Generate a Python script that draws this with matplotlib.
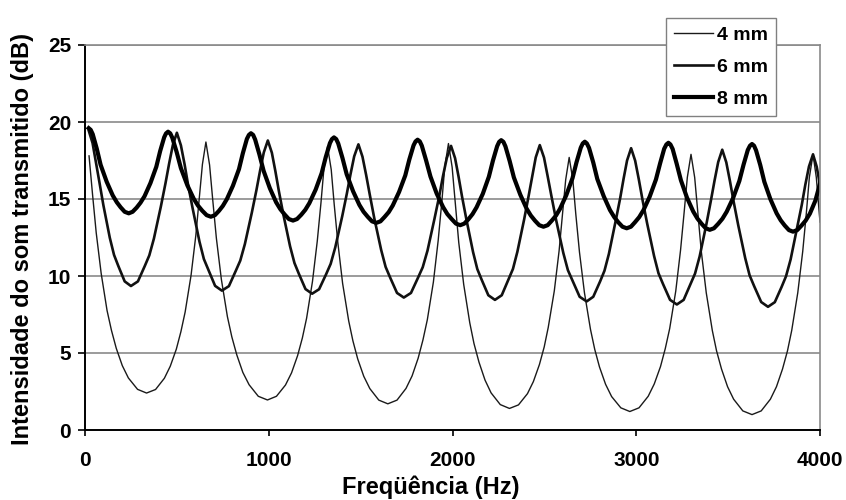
import matplotlib
matplotlib.use("Agg")
import matplotlib.pyplot as plt


# frequency (Hz) / level (dB), one line per half period
freq_4mm = [22, 41, 61, 88, 120, 144, 170, 203, 236, 286, 335,
            384, 432, 464, 497, 522, 545, 577, 603, 622, 639, 658,
            678, 695, 715, 742, 775, 799, 826, 859, 893, 943, 993,
            1042, 1091, 1124, 1157, 1183, 1206, 1238, 1264, 1284, 1300, 1320,
            1340, 1356, 1376, 1402, 1435, 1458, 1484, 1517, 1550, 1599, 1648,
            1698, 1747, 1780, 1813, 1839, 1863, 1896, 1922, 1942, 1958, 1978,
            1998, 2015, 2034, 2061, 2094, 2117, 2144, 2177, 2210, 2260, 2310,
            2359, 2408, 2440, 2473, 2499, 2521, 2554, 2580, 2599, 2616, 2635,
            2655, 2671, 2691, 2718, 2751, 2774, 2800, 2833, 2866, 2916, 2965,
            3015, 3065, 3098, 3132, 3158, 3182, 3215, 3241, 3261, 3278, 3298,
            3318, 3335, 3354, 3381, 3414, 3437, 3464, 3497, 3530, 3580, 3630,
            3680, 3730, 3763, 3796, 3823, 3846, 3879, 3906, 3926, 3942, 3962,
            3980, 4000]
db_4mm = [17.8, 15.30, 12.81, 10.17, 7.76, 6.47, 5.31, 4.18, 3.38, 2.64, 2.4,
          2.63, 3.36, 4.14, 5.25, 6.39, 7.66, 10.03, 12.62, 15.07, 17.25, 18.7,
          17.21, 14.96, 12.45, 9.79, 7.36, 6.05, 4.88, 3.74, 2.94, 2.19, 1.95,
          2.19, 2.92, 3.71, 4.83, 5.98, 7.26, 9.65, 12.26, 14.73, 16.94, 18.4,
          16.91, 14.68, 12.17, 9.52, 7.09, 5.79, 4.62, 3.49, 2.69, 1.94, 1.7,
          1.94, 2.70, 3.51, 4.66, 5.84, 7.16, 9.61, 12.30, 14.83, 17.10, 18.6,
          17.07, 14.76, 12.18, 9.45, 6.96, 5.61, 4.41, 3.24, 2.41, 1.65, 1.4,
          1.63, 2.36, 3.14, 4.25, 5.39, 6.66, 9.03, 11.62, 14.07, 16.25, 17.7,
          16.23, 14.02, 11.55, 8.92, 6.53, 5.24, 4.09, 2.97, 2.17, 1.44, 1.2,
          1.44, 2.19, 2.99, 4.12, 5.29, 6.59, 9.02, 11.67, 14.18, 16.41, 17.9,
          16.40, 14.13, 11.60, 8.91, 6.46, 5.14, 3.96, 2.81, 2.00, 1.24, 1.0,
          1.24, 2.00, 2.81, 3.96, 5.14, 6.46, 8.91, 11.60, 14.13, 16.40, 17.9,
          16.4, 13.5]

freq_6mm = [20, 41, 59, 78, 100, 135, 158, 181, 216, 250,
            288, 325, 350, 375, 413, 438, 458, 478, 500,
            522, 542, 561, 586, 623, 647, 672, 708, 745,
            783, 820, 845, 870, 908, 933, 953, 973, 995,
            1017, 1036, 1055, 1079, 1116, 1140, 1164, 1200, 1236,
            1274, 1312, 1337, 1362, 1400, 1425, 1445, 1465, 1488,
            1510, 1530, 1550, 1574, 1612, 1636, 1661, 1698, 1735,
            1774, 1812, 1838, 1864, 1902, 1928, 1948, 1969, 1992,
            2014, 2033, 2052, 2076, 2112, 2135, 2159, 2195, 2231,
            2268, 2304, 2329, 2353, 2390, 2414, 2434, 2453, 2475,
            2498, 2518, 2539, 2564, 2603, 2628, 2654, 2692, 2730,
            2766, 2803, 2827, 2851, 2887, 2912, 2931, 2950, 2972,
            2994, 3014, 3034, 3059, 3097, 3121, 3146, 3184, 3221,
            3258, 3295, 3320, 3345, 3382, 3406, 3426, 3446, 3468,
            3490, 3510, 3530, 3555, 3593, 3617, 3642, 3680, 3717,
            3754, 3791, 3815, 3840, 3876, 3901, 3920, 3940, 3962,
            3982, 4000]
db_6mm = [19.45, 18.64, 17.43, 16.12, 14.60, 12.48, 11.37, 10.66, 9.65, 9.35,
          9.65, 10.64, 11.34, 12.43, 14.52, 16.02, 17.31, 18.50, 19.3,
          18.48, 17.25, 15.92, 14.38, 12.23, 11.10, 10.38, 9.36, 9.05,
          9.34, 10.32, 11.00, 12.07, 14.12, 15.58, 16.85, 18.02, 18.8,
          18.00, 16.81, 15.52, 14.02, 11.93, 10.84, 10.14, 9.15, 8.85,
          9.14, 10.11, 10.79, 11.86, 13.89, 15.35, 16.61, 17.77, 18.55,
          17.75, 16.56, 15.27, 13.77, 11.68, 10.59, 9.89, 8.90, 8.6,
          8.90, 9.88, 10.57, 11.65, 13.72, 15.20, 16.48, 17.66, 18.45,
          17.65, 16.45, 15.15, 13.65, 11.55, 10.45, 9.75, 8.75, 8.45,
          8.75, 9.76, 10.46, 11.57, 13.68, 15.18, 16.49, 17.70, 18.5,
          17.69, 16.47, 15.15, 13.63, 11.50, 10.38, 9.67, 8.65, 8.35,
          8.65, 9.64, 10.34, 11.43, 13.52, 15.02, 16.31, 17.50, 18.3,
          17.49, 16.27, 14.95, 13.43, 11.30, 10.18, 9.47, 8.45, 8.15,
          8.45, 9.46, 10.16, 11.27, 13.38, 14.88, 16.19, 17.40, 18.2,
          17.38, 16.16, 14.83, 13.30, 11.16, 10.04, 9.33, 8.31, 8.0,
          8.30, 9.29, 9.98, 11.07, 13.15, 14.63, 15.92, 17.11, 17.9,
          17.1, 15.9]

freq_8mm = [20, 31, 42, 64, 85, 118, 151, 173, 194, 216, 238,
            259, 281, 302, 324, 356, 388, 409, 431, 441, 452,
            464, 475, 499, 522, 557, 592, 615, 638, 662, 685,
            707, 729, 750, 772, 805, 838, 859, 881, 892, 903,
            915, 926, 949, 972, 1006, 1040, 1063, 1086, 1109, 1132,
            1154, 1177, 1199, 1221, 1255, 1288, 1310, 1333, 1344, 1355,
            1367, 1378, 1401, 1424, 1459, 1493, 1516, 1539, 1562, 1585,
            1608, 1630, 1653, 1675, 1709, 1743, 1765, 1788, 1799, 1810,
            1822, 1833, 1856, 1880, 1914, 1949, 1972, 1996, 2019, 2042,
            2064, 2087, 2109, 2131, 2165, 2198, 2220, 2243, 2254, 2265,
            2277, 2288, 2311, 2334, 2369, 2403, 2426, 2449, 2472, 2495,
            2518, 2540, 2563, 2585, 2619, 2653, 2675, 2698, 2709, 2720,
            2731, 2743, 2766, 2788, 2823, 2857, 2880, 2902, 2925, 2948,
            2971, 2993, 3016, 3039, 3073, 3107, 3130, 3152, 3164, 3175,
            3186, 3198, 3220, 3243, 3276, 3310, 3333, 3355, 3378, 3400,
            3423, 3446, 3469, 3492, 3527, 3561, 3584, 3607, 3619, 3630,
            3641, 3652, 3675, 3697, 3730, 3764, 3786, 3808, 3831, 3853,
            3876, 3899, 3922, 3945, 3975, 4000]
db_8mm = [19.6, 19.49, 19.21, 18.27, 17.22, 16.12, 15.23, 14.79, 14.46, 14.17, 14.07,
          14.17, 14.44, 14.76, 15.18, 16.03, 17.09, 18.11, 19.01, 19.26, 19.37,
          19.26, 18.98, 18.04, 17.00, 15.89, 15.01, 14.57, 14.24, 13.95, 13.85,
          13.95, 14.23, 14.55, 14.99, 15.86, 16.94, 17.97, 18.90, 19.16, 19.27,
          19.16, 18.86, 17.90, 16.83, 15.70, 14.79, 14.34, 14.00, 13.7, 13.6,
          13.7, 13.98, 14.30, 14.73, 15.60, 16.68, 17.71, 18.63, 18.89, 19.0,
          18.89, 18.61, 17.67, 16.61, 15.50, 14.62, 14.17, 13.84, 13.55, 13.45,
          13.55, 13.83, 14.15, 14.58, 15.45, 16.53, 17.56, 18.48, 18.74, 18.85,
          18.74, 18.46, 17.52, 16.46, 15.35, 14.47, 14.02, 13.69, 13.4, 13.3,
          13.4, 13.69, 14.02, 14.46, 15.34, 16.45, 17.49, 18.43, 18.71, 18.82,
          18.71, 18.42, 17.47, 16.40, 15.28, 14.38, 13.93, 13.59, 13.3, 13.2,
          13.3, 13.59, 13.92, 14.36, 15.24, 16.35, 17.39, 18.33, 18.61, 18.72,
          18.61, 18.32, 17.37, 16.30, 15.18, 14.28, 13.83, 13.49, 13.2, 13.1,
          13.2, 13.49, 13.82, 14.27, 15.15, 16.26, 17.32, 18.26, 18.54, 18.65,
          18.54, 18.25, 17.29, 16.22, 15.09, 14.19, 13.73, 13.40, 13.1, 13.0,
          13.1, 13.39, 13.72, 14.17, 15.06, 16.17, 17.23, 18.18, 18.46, 18.57,
          18.46, 18.16, 17.20, 16.12, 14.99, 14.07, 13.62, 13.28, 12.98, 12.88,
          12.98, 13.27, 13.60, 14.05, 14.9, 16.0]

labels = ["4 mm", "6 mm", "8 mm"]
x_ticks = [0, 1000, 2000, 3000, 4000]
y_ticks = [0, 5, 10, 15, 20, 25]


def main():
    plt.rcParams['font.family'] = ['Liberation Sans', 'DejaVu Sans']
    plt.rcParams['font.weight'] = 'bold'

    fig = plt.figure(figsize=(8.46, 5.0), dpi=100)
    ax = fig.add_axes([85 / 846, 70 / 500, 735 / 846, 385 / 500])

    ax.plot(freq_4mm, db_4mm, color='#1a1a1a', lw=1.0, solid_joinstyle='round', label=labels[0])
    ax.plot(freq_6mm, db_6mm, color='#111111', lw=1.9, solid_joinstyle='round', label=labels[1])
    ax.plot(freq_8mm, db_8mm, color='#000000', lw=3.0, solid_joinstyle='round', label=labels[2])

    ax.set_xlim(0, 4000)
    ax.set_ylim(0, 25)
    ax.set_xticks(x_ticks)
    ax.set_yticks(y_ticks)
    ax.yaxis.grid(True, color='#8a8a8a', lw=1.2)
    ax.set_axisbelow(True)

    ax.spines['left'].set_color('black')
    ax.spines['left'].set_linewidth(1.4)
    ax.spines['bottom'].set_color('black')
    ax.spines['bottom'].set_linewidth(1.4)
    ax.spines['top'].set_color('#8a8a8a')
    ax.spines['top'].set_linewidth(1.2)
    ax.spines['right'].set_color('#8a8a8a')
    ax.spines['right'].set_linewidth(1.2)

    ax.tick_params(axis='y', direction='out', length=5, width=1.2, pad=5, labelsize=15)
    ax.tick_params(axis='x', direction='out', length=4, width=1.2, pad=11, labelsize=15)

    fig.text(431 / 846, 1 - 487 / 500, 'Freqüência (Hz)', ha='center', va='center',
             fontsize=17, fontweight='bold')
    fig.text(23 / 846, 1 - 239 / 500, 'Intensidade do som transmitido (dB)', ha='center',
             va='center', rotation=90, fontsize=17, fontweight='bold')

    leg = ax.legend(loc='upper left', bbox_to_anchor=(666 / 846, 1 - 18 / 500),
                    bbox_transform=fig.transFigure, fontsize=14, frameon=True,
                    fancybox=False, edgecolor='#808080', framealpha=1,
                    handlelength=2.0, handletextpad=0.2, labelspacing=0.75,
                    borderpad=0.42, borderaxespad=0)
    leg.get_frame().set_linewidth(1.0)

    fig.savefig('out.png', dpi=100)


if __name__ == "__main__":
    main()
